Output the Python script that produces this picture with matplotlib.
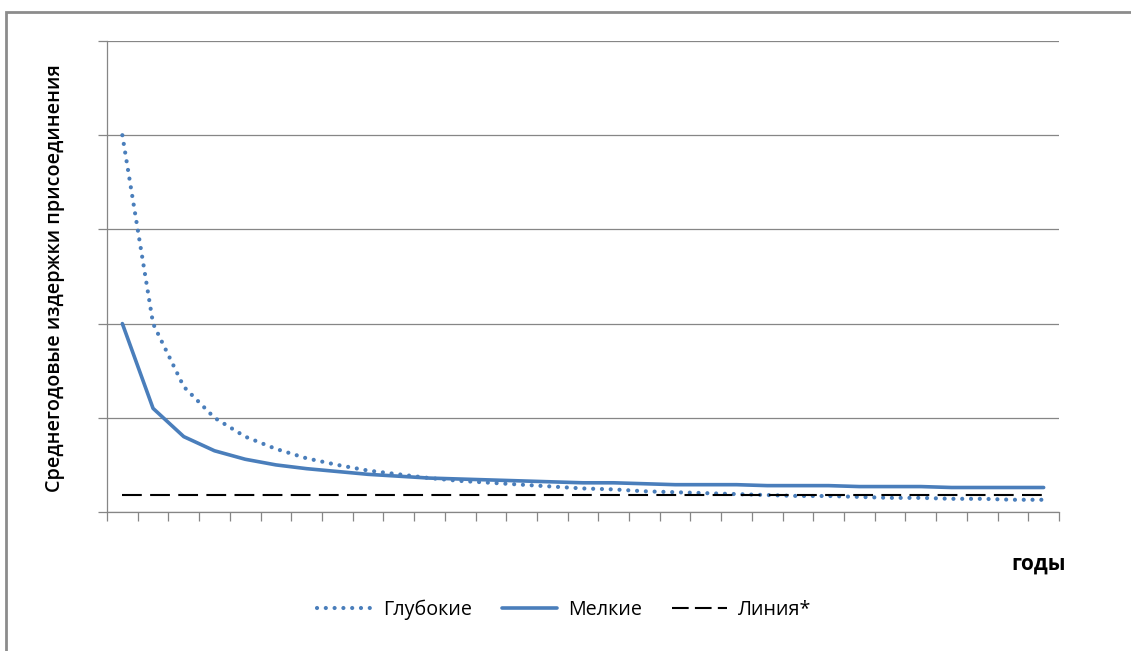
import matplotlib.pyplot as plt
from matplotlib.lines import Line2D
from matplotlib.patches import Rectangle

# data (no axis labels shown, scale in grid units)
years = list(range(1, 32))
glubokie = [4.0, 2.0, 1.33, 1.0, 0.8, 0.67, 0.57, 0.5, 0.44, 0.4, 0.36, 0.33, 0.31,
            0.29, 0.27, 0.25, 0.24, 0.22, 0.21, 0.2, 0.19, 0.18, 0.17, 0.17, 0.16,
            0.15, 0.15, 0.14, 0.14, 0.13, 0.13]
melkie = [2.0, 1.1, 0.8, 0.65, 0.56, 0.5, 0.46, 0.43, 0.4, 0.38, 0.36, 0.35, 0.34,
          0.33, 0.32, 0.31, 0.31, 0.3, 0.29, 0.29, 0.29, 0.28, 0.28, 0.28, 0.27,
          0.27, 0.27, 0.26, 0.26, 0.26, 0.26]
liniya = [0.18] * 31

blue = '#4a7ebb'
grey = '#868686'

plt.rcParams['font.family'] = ['Open Sans', 'DejaVu Sans']

fig = plt.figure(figsize=(11.31, 6.51), dpi=100)
ax = fig.add_axes([107 / 1131, 1 - 512 / 651, (1059 - 107) / 1131, (512 - 41) / 651])

l1, = ax.plot(years, glubokie, color=blue, lw=3.0, linestyle=(0, (0.01, 2.1)),
              dash_capstyle='round', solid_capstyle='round', label='Глубокие')
l2, = ax.plot(years, melkie, color=blue, lw=2.6, solid_capstyle='round', label='Мелкие')
ax.plot(years, liniya, color='black', lw=1.5, linestyle=(0, (9.5, 4)))
# legend sample with slightly shorter dashes so three fit, as in the original
l3 = Line2D([], [], color='black', lw=1.5, linestyle=(0, (8, 3)), label='Линия*')

ax.set_xlim(0.5, 31.5)
ax.set_ylim(0, 5)
ax.set_xticks([x + 0.5 for x in range(0, 32)])
ax.set_yticks(range(0, 6))
ax.set_xticklabels([])
ax.set_yticklabels([])
ax.tick_params(direction='out', length=6.5, width=0.9, color=grey)
ax.yaxis.grid(True, color=grey, lw=0.9)
ax.set_axisbelow(True)
for s in ['top', 'right']:
    ax.spines[s].set_visible(False)
for s in ['left', 'bottom']:
    ax.spines[s].set_color(grey)
    ax.spines[s].set_linewidth(0.9)

fig.text(55 / 1131, 1 - 278 / 651, 'Среднегодовые издержки присоединения', rotation=90,
         ha='center', va='center', fontsize=14.2, fontweight='semibold')
fig.text(1039 / 1131, 1 - 564 / 651, 'годы', ha='center', va='center',
         fontsize=15, fontweight='bold')

fig.legend(handles=[l1, l2, l3], loc='center', bbox_to_anchor=(0.499, 1 - 610 / 651),
           ncol=3, frameon=False, fontsize=14.2, handlelength=2.8, handletextpad=0.55,
           columnspacing=1.5)

# outer chart frame
fig.patches.append(Rectangle((6 / 1131, 1 - 655 / 651), 1.2, 643 / 651,
                             transform=fig.transFigure, fill=False,
                             edgecolor='#8c8c8c', lw=2))

fig.savefig('out.png', dpi=100)
